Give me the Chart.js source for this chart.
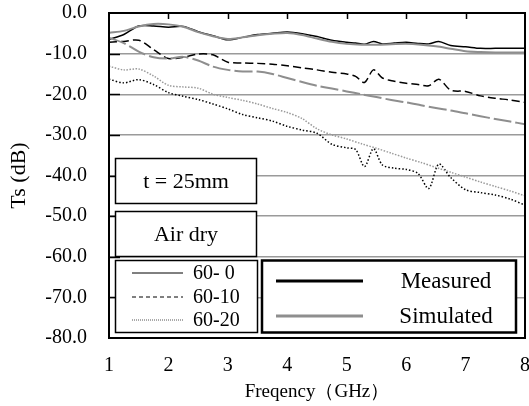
<!DOCTYPE html>
<html>
<head>
<meta charset="utf-8">
<script src="https://cdn.jsdelivr.net/npm/chart.js@4.4.1/dist/chart.umd.min.js"></script>
<style>
  html, body { margin: 0; padding: 0; background: #fff; }
  #wrap { width: 529px; height: 406px; }
</style>
</head>
<body>
<div id="wrap"><canvas id="tsChart" width="529" height="406"></canvas></div>
<script>
// frequency grids (GHz)
var freqMeas = [1, 1.25, 1.5, 1.75, 2, 2.25, 2.5, 2.75, 3, 3.25, 3.5, 3.75, 4, 4.25, 4.5, 4.75,
                5, 5.15, 5.3, 5.45, 5.6, 5.8, 6, 6.2, 6.38, 6.55, 6.75, 7, 7.25, 7.5, 7.75, 8];
var freqSim = [1, 1.25, 1.5, 1.75, 2, 2.25, 2.5, 2.75, 3, 3.25, 3.5, 3.75, 4, 4.25, 4.5,
               4.75, 5, 5.25, 5.5, 5.75, 6, 6.25, 6.5, 6.75, 7, 7.25, 7.5, 7.75, 8];

// measured Ts (dB)
var meas600 = [-6.5, -5.3, -3.2, -3.2, -3.5, -3.3, -4.6, -5.6, -6.6, -6.0, -5.3, -5.0, -4.7, -5.1, -5.8, -6.7,
               -7.2, -7.4, -7.7, -7.0, -7.6, -7.4, -7.2, -7.5, -7.6, -7.0, -8.0, -8.3, -8.7, -8.7, -8.7, -8.7];
var meas6010 = [-7.2, -7.0, -6.7, -9.0, -11.2, -10.9, -10.1, -10.3, -12.1, -12.3, -12.4, -12.6, -13.0, -13.5, -14.0, -14.6,
                -15.0, -15.6, -17.1, -14.0, -16.0, -16.8, -17.3, -17.6, -17.9, -16.3, -19.0, -19.3, -20.4, -21.0, -21.4, -22.0];
var meas6020 = [-16.3, -17.2, -16.4, -17.6, -19.6, -20.5, -21.3, -22.4, -23.6, -25.0, -25.8, -26.6, -27.9, -28.8, -29.6, -32.3,
                -33.2, -33.6, -37.8, -33.4, -37.4, -38.2, -38.5, -39.5, -43.2, -37.2, -40.5, -43.5, -44.2, -44.8, -45.8, -47.3];

// simulated Ts (dB)
var sim600 = [-4.9, -4.4, -3.3, -2.7, -2.8, -3.4, -4.7, -5.7, -6.4, -6.0, -5.5, -5.1, -4.9, -5.4, -6.3,
              -7.1, -7.6, -7.8, -7.8, -7.7, -7.6, -7.8, -8.2, -8.8, -9.4, -9.6, -9.7, -9.7, -9.7];
var sim6010 = [-6.1, -7.4, -9.5, -10.9, -11.2, -10.8, -11.7, -13.2, -14.0, -14.4, -14.4, -15.0, -16.0, -17.0, -17.9,
               -18.6, -19.3, -20.0, -20.7, -21.4, -22.0, -22.7, -23.4, -24.0, -24.7, -25.4, -26.1, -26.7, -27.4];
var sim6020 = [-13.1, -14.0, -13.8, -15.5, -17.8, -18.2, -18.5, -20.0, -20.8, -21.5, -22.4, -23.5, -24.5, -26.0, -28.5,
               -30.0, -31.0, -32.2, -33.3, -34.5, -35.7, -36.8, -38.0, -39.2, -40.4, -41.6, -42.7, -43.8, -45.0];

var xTicks = [1, 2, 3, 4, 5, 6, 7, 8];
var yTicks = [0, -10, -20, -30, -40, -50, -60, -70, -80];

var serif = "'Liberation Serif', 'Times New Roman', serif";
var grey = '#8e8e8e';

function pts(xs, ys) {
  return ys.map(function (v, i) { return { x: xs[i], y: v }; });
}

function ds(label, xs, ys, color, width, dash) {
  return {
    label: label,
    data: pts(xs, ys),
    borderColor: color,
    borderWidth: width,
    borderDash: dash,
    pointRadius: 0,
    fill: false,
    tension: 0.3
  };
}

// frame, inward ticks and the boxed notes / legends
var framePlugin = {
  id: 'frame',
  afterDatasetsDraw: function (chart) {
    var c = chart.ctx, a = chart.chartArea;
    var xs = chart.scales.x, ys = chart.scales.y;
    c.save();
    c.strokeStyle = '#000';
    c.lineWidth = 2;
    c.strokeRect(a.left, a.top, a.right - a.left, a.bottom - a.top);
    c.lineWidth = 1.5;
    c.beginPath();
    xTicks.slice(1, -1).forEach(function (t) {
      var px = Math.round(xs.getPixelForValue(t)) + 0.5;
      c.moveTo(px, a.top);
      c.lineTo(px, a.top + 6);
    });
    yTicks.slice(1, -1).forEach(function (t) {
      var py = Math.round(ys.getPixelForValue(t)) + 0.5;
      c.moveTo(a.left, py);
      c.lineTo(a.left + 11, py);
    });
    c.stroke();

    function box(x, y, w, h, lw) {
      c.fillStyle = '#fff';
      c.fillRect(x, y, w, h);
      c.lineWidth = lw;
      c.strokeStyle = '#000';
      c.strokeRect(x, y, w, h);
    }
    function seg(x1, x2, y, color, lw, dash) {
      c.beginPath();
      c.setLineDash(dash);
      c.strokeStyle = color;
      c.lineWidth = lw;
      c.moveTo(x1, y);
      c.lineTo(x2, y);
      c.stroke();
      c.setLineDash([]);
    }

    c.textBaseline = 'middle';

    box(115.5, 158.5, 141, 45, 1.5);
    c.fillStyle = '#000';
    c.font = '22px ' + serif;
    c.textAlign = 'center';
    c.fillText('t = 25mm', 186, 182);

    box(115.5, 211.5, 141, 45, 1.5);
    c.fillStyle = '#000';
    c.font = '22px ' + serif;
    c.fillText('Air dry', 186, 235);

    box(115.5, 260.5, 142, 72, 1.5);
    seg(132, 183, 273, '#000', 1, []);
    seg(132, 183, 297, '#000', 1, [4, 3]);
    seg(132, 183, 320, '#555', 1, [1, 1]);
    c.fillStyle = '#000';
    c.font = '20px ' + serif;
    c.textAlign = 'left';
    c.fillText('60- 0', 193, 274);
    c.fillText('60-10', 193, 298);
    c.fillText('60-20', 193, 321);

    box(262, 260.5, 254, 72, 2.5);
    seg(276, 363, 281, '#000', 3, []);
    seg(276, 363, 316, grey, 3, []);
    c.fillStyle = '#000';
    c.font = '23px ' + serif;
    c.textAlign = 'center';
    c.fillText('Measured', 446, 282);
    c.fillText('Simulated', 446, 317);
    c.restore();
  }
};

var ctx = document.getElementById('tsChart').getContext('2d');
var tsChart = new Chart(ctx, {
  type: 'line',
  data: {
    datasets: [
      ds('60-0 Simulated', freqSim, sim600, grey, 2, []),
      ds('60-10 Simulated', freqSim, sim6010, grey, 2, [18, 4]),
      ds('60-20 Simulated', freqSim, sim6020, '#9a9a9a', 1.5, [1.5, 1.5]),
      ds('60-0 Measured', freqMeas, meas600, '#000', 1.5, []),
      ds('60-10 Measured', freqMeas, meas6010, '#000', 1.5, [8, 4]),
      ds('60-20 Measured', freqMeas, meas6020, '#000', 1.5, [1.5, 2])
    ]
  },
  options: {
    responsive: false,
    animation: false,
    layout: { autoPadding: false, padding: { top: 13, right: 4, left: 0, bottom: 0 } },
    plugins: {
      legend: { display: false },
      tooltip: { enabled: false }
    },
    scales: {
      x: {
        type: 'linear',
        min: 1,
        max: 8,
        afterFit: function (s) {
          s.height = 68;
          s.paddingLeft = 0;
          s.paddingRight = 0;
        },
        afterBuildTicks: function (s) { s.ticks = xTicks.map(function (v) { return { value: v }; }); },
        grid: { display: false, drawTicks: false },
        border: { display: true, color: '#000', width: 2 },
        ticks: {
          color: '#000',
          padding: 16,
          maxRotation: 0,
          font: { family: serif, size: 20 }
        },
        title: {
          display: true,
          text: 'Freqency（GHz）',
          color: '#000',
          padding: { top: 0, bottom: 3 },
          font: { family: serif, size: 19 }
        }
      },
      y: {
        min: -80,
        max: 0,
        afterFit: function (s) {
          s.width = 109;
          s.paddingTop = 0;
          s.paddingBottom = 0;
        },
        afterBuildTicks: function (s) { s.ticks = yTicks.map(function (v) { return { value: v }; }); },
        grid: { color: '#9a9a9a', lineWidth: 1.5, drawTicks: false },
        border: { display: true, color: '#000', width: 2 },
        ticks: {
          color: '#000',
          padding: 22,
          font: { family: serif, size: 20 },
          callback: function (v) { return Number(v).toFixed(1); }
        },
        title: {
          display: true,
          text: 'Ts (dB)',
          color: '#000',
          padding: { top: 6, bottom: 0 },
          font: { family: serif, size: 22 }
        }
      }
    }
  },
  plugins: [framePlugin]
});
</script>
</body>
</html>
